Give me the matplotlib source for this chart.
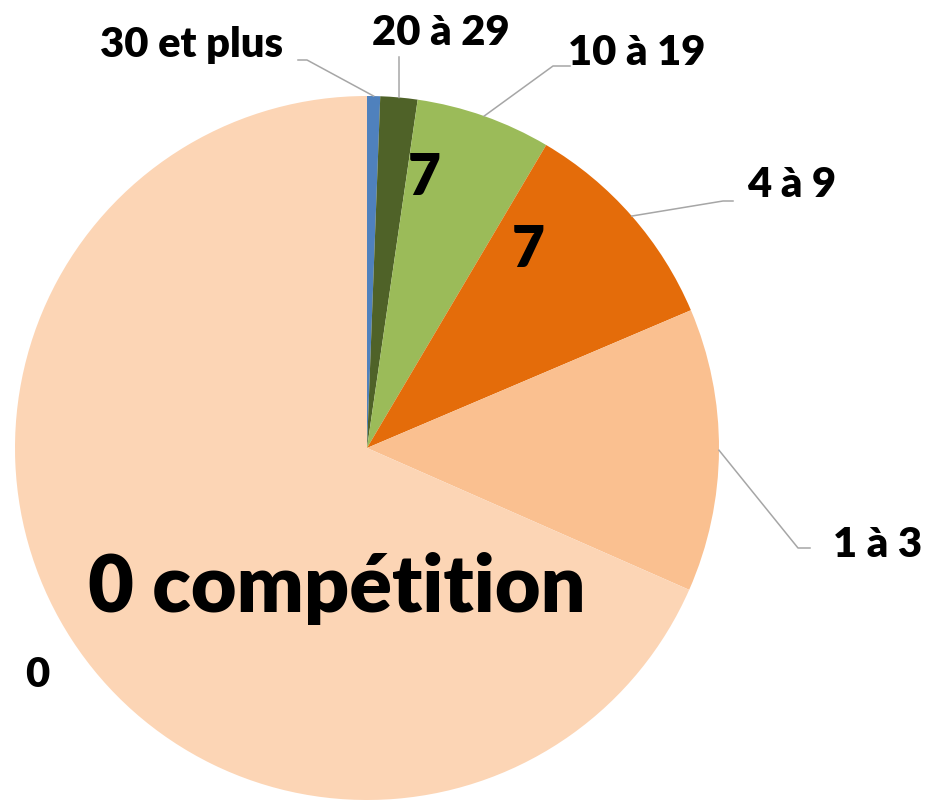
import numpy as np
import matplotlib.pyplot as plt

# parts du camembert (en %)
categories = ['30 et plus', '20 à 29', '10 à 19', '4 à 9', '1 à 3', '0']
valeurs = [0.6, 1.7, 6.2, 10.1, 13.0, 68.4]
couleurs = ['#4F81BD', '#4F6228', '#9BBB59', '#E46C0A', '#FAC090', '#FCD5B5']

W, H = 935, 800
cx, cy, R = 367, 448, 352   # centre et rayon en pixels

def px(x, y):
    # pixels image -> coordonnees du camembert
    return (x - cx) / R, (cy - y) / R

fig = plt.figure(figsize=(W / 100, H / 100), dpi=100)
ax = fig.add_axes([(cx - R) / W, (H - cy - R) / H, 2 * R / W, 2 * R / H])
wedges, _ = ax.pie(valeurs, colors=couleurs, startangle=90, counterclock=False,
                   radius=1, wedgeprops=dict(linewidth=0))
ax.set_xlim(-1, 1)
ax.set_ylim(-1, 1)
ax.set_aspect('equal')
ax.axis('off')

police = dict(family=['Lato', 'DejaVu Sans'], fontweight='heavy', color='black')
gris = '#A6A6A6'

# etiquettes: (position texte gauche/baseline, coude, ancrage sur le bord)
etiquettes = {
    '30 et plus': ((100, 57), [(298, 60), (307, 60)]),
    '20 à 29': ((372, 45), [(399, 57)]),
    '10 à 19': ((568, 65), [(570, 66), (553, 66)]),
    '4 à 9': ((747, 197), [(733, 201), (723, 201)]),
    '1 à 3': ((833, 557), [(810, 548), (798, 548)]),
}

for w, cat in zip(wedges, categories):
    if cat not in etiquettes:
        continue
    (tx, ty), coude = etiquettes[cat]
    th = np.deg2rad((w.theta1 + w.theta2) / 2)
    pts = [px(*p) for p in coude] + [(np.cos(th), np.sin(th))]
    xs, ys = zip(*pts)
    ax.plot(xs, ys, color=gris, lw=1.1, clip_on=False, zorder=1)
    ax.text(*px(tx, ty), cat, fontsize=30, ha='left', va='baseline',
            clip_on=False, **police)

ax.text(*px(25, 687), '0', fontsize=30, ha='left', va='baseline',
        clip_on=False, **police)

# annotations dans les parts
ax.text(*px(408, 195), '7', fontsize=41, ha='left', va='baseline', **police)
ax.text(*px(512, 267), '7', fontsize=41, ha='left', va='baseline', **police)
ax.text(*px(88, 612), '0 compétition', fontsize=57, ha='left', va='baseline',
        **police)

plt.savefig('out.png', dpi=100)
